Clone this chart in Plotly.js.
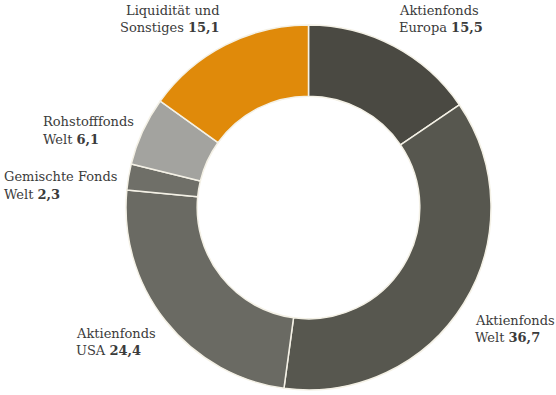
<!DOCTYPE html>
<html>
<head>
<meta charset="utf-8">
<script src="https://cdn.plot.ly/plotly-3.0.1.min.js"></script>
<style>html,body{margin:0;padding:0;background:#fff;}#chart{width:556px;height:395px;}</style>
</head>
<body>
<div id="chart"></div>
<script>
// Data
const categories = ["Aktienfonds Europa", "Aktienfonds Welt", "Aktienfonds USA", "Gemischte Fonds Welt", "Rohstofffonds Welt", "Liquidität und Sonstiges"];
const labelLine1 = ["Aktienfonds", "Aktienfonds", "Aktienfonds", "Gemischte Fonds", "Rohstofffonds", "Liquidität und"];
const labelLine2 = ["Europa", "Welt", "USA", "Welt", "Welt", "Sonstiges"];
const values = [15.5, 36.7, 24.4, 2.3, 6.1, 15.1];
const colors = ["#4a4942", "#57574f", "#6a6a63", "#6f6f68", "#a3a39f", "#e08a0a"];

// Label placement (pixels in 556x395 canvas): [x, y of first line, anchor]
const labelPos = [
  [397, 10, "left"],
  [473, 320, "left"],
  [74, 333, "left"],
  [2, 177, "left"],
  [41, 122, "left"],
  [222, 10, "right"]
];
const W = 556, H = 395, lineGap = 17.5;

const fmt = v => v.toFixed(1).replace('.', ',');
const fam = "DejaVu Serif";
const font = {family: fam, size: 13, color: "#3b3b3b"};

const annotations = [];
categories.forEach((c, i) => {
  const [px, py, anc] = labelPos[i];
  annotations.push({
    xref: "paper", yref: "paper", x: px / W, y: 1 - py / H,
    xanchor: anc, yanchor: "middle", showarrow: false,
    text: labelLine1[i], font: font, align: anc
  });
  annotations.push({
    xref: "paper", yref: "paper", x: px / W, y: 1 - (py + lineGap) / H,
    xanchor: anc, yanchor: "middle", showarrow: false,
    text: labelLine2[i] + " <b>" + fmt(values[i]) + "</b>", font: font, align: anc
  });
});

const trace = {
  type: "pie",
  labels: categories,
  values: values,
  sort: false,
  direction: "clockwise",
  rotation: 0,
  hole: 0.61,
  textinfo: "none",
  hoverinfo: "label+value",
  marker: {colors: colors, line: {color: "#f4f1e6", width: 1.5}},
  domain: {x: [125 / W, 492 / W], y: [1 - 390 / H, 1 - 25 / H]},
  showlegend: false
};

Plotly.newPlot("chart", [trace], {
  width: W, height: H,
  margin: {l: 0, r: 0, t: 0, b: 0},
  font: {family: fam},
  paper_bgcolor: "#ffffff",
  plot_bgcolor: "#ffffff",
  showlegend: false,
  annotations: annotations
}, {displayModeBar: false, staticPlot: true});
</script>
</body>
</html>
